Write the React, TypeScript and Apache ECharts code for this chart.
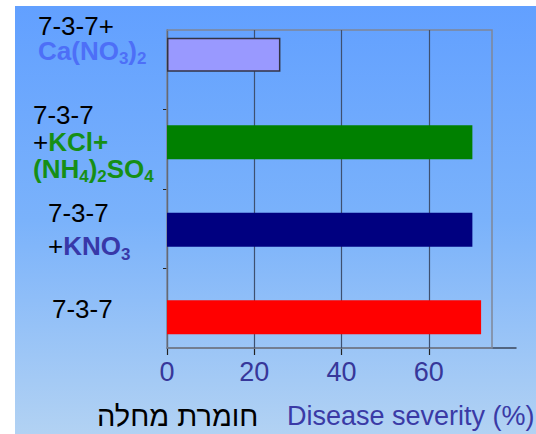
import React, { useEffect, useRef } from "react";
import * as echarts from "echarts";

// Categories bottom-up
const categories = ["7-3-7", "7-3-7 +KNO3", "7-3-7 +KCl+ (NH4)2SO4", "7-3-7+ Ca(NO3)2"];
const severity = [72, 70, 70, 26];
const barColors = ["#ff0000", "#000080", "#008000", "#9999ff"];
const xTicks = [0, 20, 40, 60];
const xTitleEn = "Disease severity (%)";
const xTitleHe = "חומרת מחלה";

const FONT = "'Liberation Sans', Arial, 'DejaVu Sans', sans-serif";

const labelRich: string[] = [
  "{r0|7-3-7}\n{p0| }",
  "{n1|7-3-7}\n{n1|+}{b1|KNO}{bs1|3}",
  "{n2|7-3-7}\n{n2|+}{g2|KCl+}\n{g2|(NH}{gs2|4}{g2|)}{gs2|2}{g2|SO}{gs2|4}",
  "{n3|7-3-7+}\n{c3a|Ca(NO}{cs3|3}{c3|)}{cs3|2}\n{p3| }",
];

function mk(color: string, size: number, lh: number, bold: boolean, padLeft = 0) {
  return {
    color,
    fontSize: size,
    fontFamily: FONT,
    fontWeight: bold ? "bold" : "normal",
    lineHeight: lh,
    padding: [0, 0, 0, padLeft],
  };
}
function sub(color: string, padTop: number) {
  return {
    color,
    fontSize: 17,
    fontFamily: FONT,
    fontWeight: "bold",
    lineHeight: 10,
    verticalAlign: "top",
    padding: [padTop, 0, 0, 0],
  };
}

const rich: any = {
  r0: mk("#000", 26, 26, false, 19),
  p0: { fontSize: 10, lineHeight: 16 },
  n1: mk("#000", 26, 33, false, 15),
  b1: mk("#3838a8", 26, 33, true),
  bs1: sub("#3838a8", 16),
  n2: mk("#000", 26, 27, false, 0),
  g2: mk("#168f16", 26, 27, true),
  gs2: sub("#168f16", 12),
  n3: mk("#000", 26, 25, false, 5),
  c3a: mk("#4d6ff7", 26, 25, true, 5),
  c3: mk("#4d6ff7", 26, 25, true),
  cs3: sub("#4d6ff7", 11),
  p3: { fontSize: 10, lineHeight: 32 },
};

export default function App() {
  const ref = useRef<HTMLDivElement>(null);
  useEffect(() => {
    if (!ref.current) return;
    const chart = echarts.init(ref.current, null, { renderer: "svg" });
    chart.setOption({
      animation: false,
      grid: [
        { left: 167, top: 30, width: 349, height: 318 },
        { left: 167, top: 11, width: 349, height: 350 },
      ],
      xAxis: [
        {
          gridIndex: 0,
          type: "value",
          min: 0,
          max: 80,
          interval: 20,
          axisLine: { show: true, lineStyle: { color: "#3a4458", width: 1.5 } },
          axisTick: { show: true, customValues: xTicks, length: 7, lineStyle: { color: "#222", width: 1.2 } },
          axisLabel: {
            customValues: xTicks,
            color: "#37379a",
            fontSize: 27,
            fontFamily: FONT,
            margin: 10,
          },
          splitLine: { show: false },
        },
        { gridIndex: 1, type: "value", min: 0, max: 80, show: false },
      ],
      yAxis: [
        {
          gridIndex: 0,
          type: "value",
          min: 0,
          max: 4,
          axisLine: { show: true, lineStyle: { color: "#111", width: 1.2 } },
          axisTick: { show: true, customValues: [1, 2, 3], length: 4, lineStyle: { color: "#222" } },
          axisLabel: { show: false },
          splitLine: { show: false },
        },
        {
          gridIndex: 1,
          type: "category",
          data: categories,
          axisLine: { show: false },
          axisTick: { show: false },
          splitLine: { show: false },
          axisLabel: {
            show: true,
            align: "left",
            margin: 134,
            formatter: (_v: string, i: number) => labelRich[i],
            rich,
          },
        },
      ],
      series: [
        {
          type: "line",
          xAxisIndex: 0,
          yAxisIndex: 0,
          data: [],
          silent: true,
          markLine: {
            silent: true,
            symbol: "none",
            label: { show: false },
            lineStyle: { color: "#3e5070", type: "solid", width: 1.2 },
            data: [{ xAxis: 20 }, { xAxis: 40 }, { xAxis: 60 }],
          },
          markArea: {
            silent: true,
            itemStyle: { color: "rgba(0,0,0,0)", borderColor: "#7f8798", borderWidth: 1.5 },
            data: [[{ xAxis: 0 }, { xAxis: 74.5 }]],
          },
        },
        {
          type: "bar",
          xAxisIndex: 1,
          yAxisIndex: 1,
          barWidth: 34,
          z: 5,
          data: severity.map((v, i) => ({
            value: v,
            itemStyle: {
              color: barColors[i],
              borderColor: i === 3 ? "#333344" : barColors[i],
              borderWidth: i === 3 ? 1.5 : 0,
            },
          })),
        },
      ],
      graphic: [
        {
          type: "text",
          style: {
            text: xTitleHe,
            x: 97,
            y: 416,
            fill: "#000",
            fontSize: 29,
            fontFamily: FONT,
            verticalAlign: "middle",
            align: "left",
          },
        },
        {
          type: "text",
          style: {
            text: xTitleEn,
            x: 287,
            y: 416,
            fill: "#3a3aa6",
            fontSize: 27,
            fontFamily: FONT,
            verticalAlign: "middle",
            align: "left",
          },
        },
      ],
    });
    return () => chart.dispose();
  }, []);
  return (
    <div style={{ position: "absolute", left: 0, top: 0, width: 536, height: 434, background: "#fff", overflow: "hidden" }}>
      <div
        style={{
          position: "absolute",
          left: 15,
          top: 6,
          right: 0,
          bottom: 0,
          background: "linear-gradient(to bottom, #62a0ff 0%, #7ab2fb 50%, #b2d2f3 100%)",
        }}
      />
      <div ref={ref} style={{ position: "absolute", left: 0, top: 0, width: 536, height: 434 }} />
    </div>
  );
}
